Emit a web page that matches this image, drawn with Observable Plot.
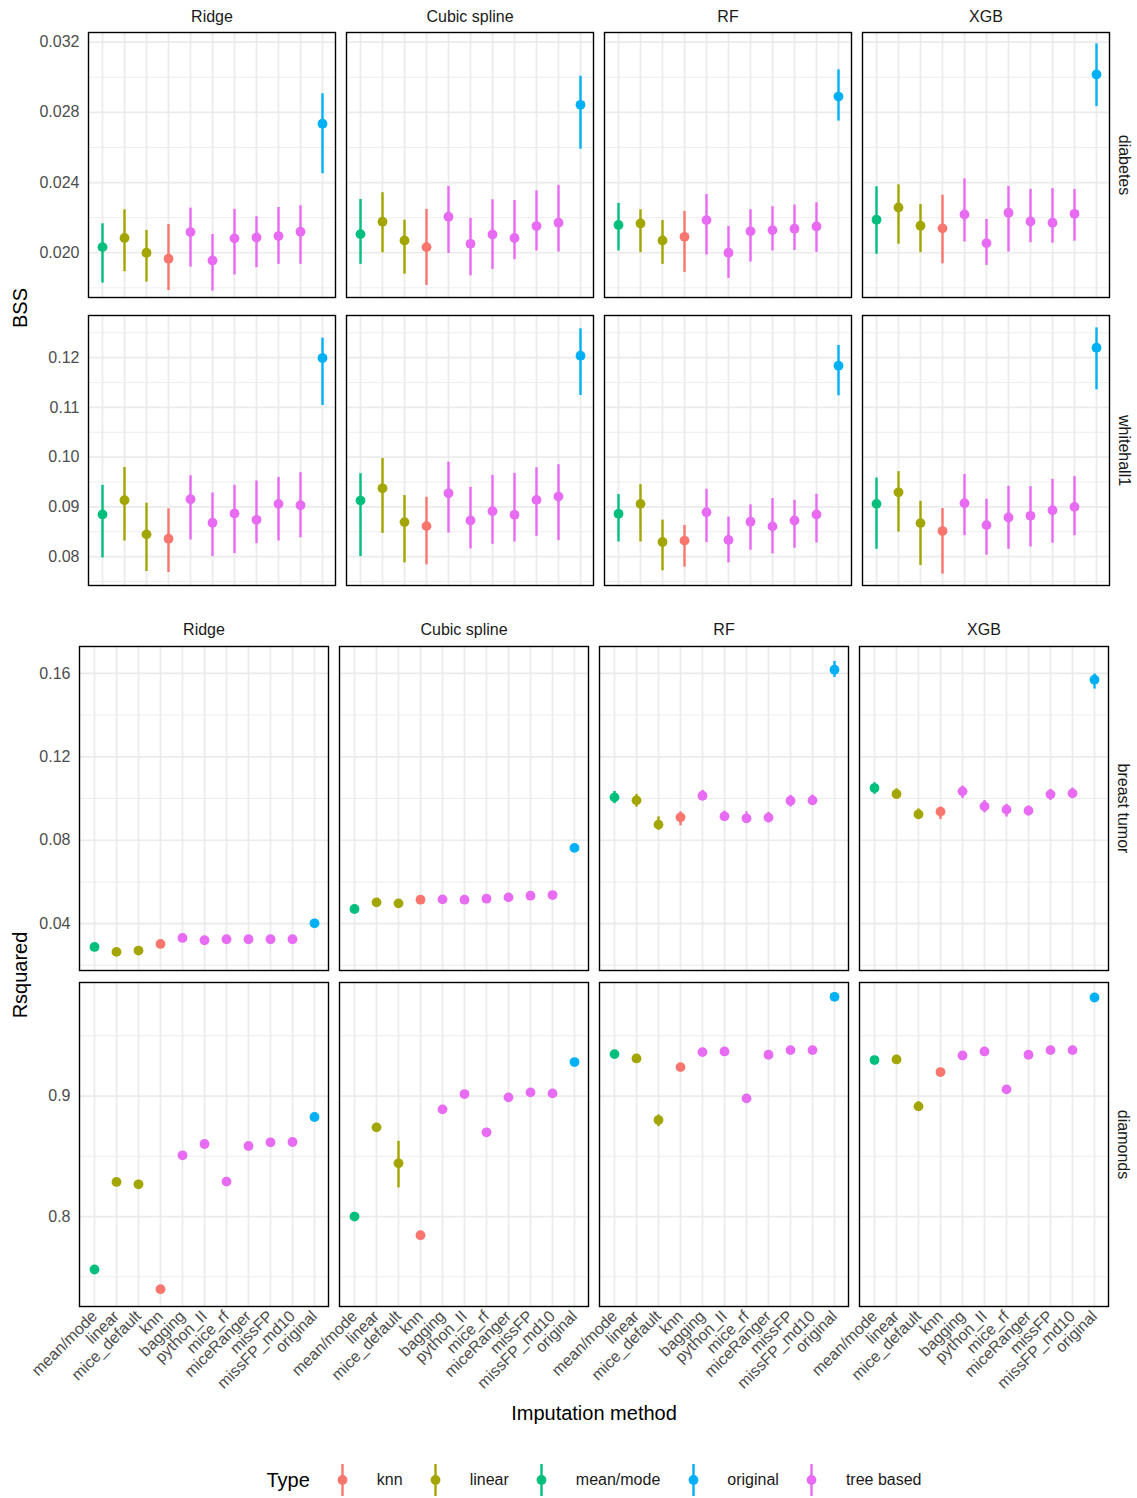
<!DOCTYPE html>
<html>
<head>
<meta charset="utf-8">
<script src="https://cdn.jsdelivr.net/npm/d3@7"></script>
<script src="https://cdn.jsdelivr.net/npm/@observablehq/plot@0.6"></script>
<style>
  html, body { margin: 0; padding: 0; background: white; }
  #chart { position: relative; width: 1137px; height: 1498px; background: white;
           font-family: "Liberation Sans", Arial, Helvetica, sans-serif; color: #000; }
  #chart svg.row { position: absolute; left: 0; }
  .title { position: absolute; font-size: 20px; color: #000; white-space: nowrap; z-index: 5; }
  #legend { position: absolute; top: 1480px; left: 594px; transform: translate(-50%, -50%);
            display: flex; align-items: center; font-size: 16px; color: #1A1A1A; z-index: 5; white-space: nowrap; }
</style>
</head>
<body>
<div id="chart"></div>
<script>
// ---------- data ----------
const models = ["Ridge", "Cubic spline", "RF", "XGB"];
const methods = ["mean/mode", "linear", "mice_default", "knn", "bagging", "python_II",
                 "mice_rf", "miceRanger", "missFP", "missFP_md10", "original"];
const types = ["mean/mode", "linear", "linear", "knn", "tree based", "tree based",
               "tree based", "tree based", "tree based", "tree based", "original"];
const typeDomain = ["knn", "linear", "mean/mode", "original", "tree based"];
const typeColors = ["#F8766D", "#A3A500", "#00BF7D", "#00B0F6", "#E76BF3"];

// each entry: [estimate, lower, upper], in method order
const diabetes_Ridge = [
  [0.02032, 0.01827, 0.02165], [0.02084, 0.01892, 0.02245], [0.02000, 0.01833, 0.02127],
  [0.01966, 0.01785, 0.02161], [0.02118, 0.01918, 0.02254], [0.01956, 0.01782, 0.02104],
  [0.02082, 0.01873, 0.02247], [0.02087, 0.01915, 0.02205], [0.02095, 0.01934, 0.02258],
  [0.02120, 0.01934, 0.02268], [0.02735, 0.02450, 0.02906]];
const diabetes_Cubic = [
  [0.02106, 0.01934, 0.02304], [0.02177, 0.02000, 0.02342], [0.02070, 0.01878, 0.02186],
  [0.02032, 0.01814, 0.02247], [0.02205, 0.01996, 0.02378], [0.02051, 0.01869, 0.02196],
  [0.02104, 0.01905, 0.02302], [0.02084, 0.01960, 0.02298], [0.02152, 0.02010, 0.02353],
  [0.02171, 0.02004, 0.02384], [0.02843, 0.02590, 0.03006]];
const diabetes_RF = [
  [0.02158, 0.02010, 0.02281], [0.02167, 0.02000, 0.02245], [0.02070, 0.01934, 0.02184],
  [0.02091, 0.01888, 0.02235], [0.02186, 0.01987, 0.02332], [0.02000, 0.01854, 0.02150],
  [0.02122, 0.01947, 0.02245], [0.02129, 0.02010, 0.02262], [0.02137, 0.02013, 0.02272],
  [0.02150, 0.02002, 0.02285], [0.02890, 0.02750, 0.03042]];
const diabetes_XGB = [
  [0.02188, 0.01991, 0.02376], [0.02258, 0.02049, 0.02387], [0.02154, 0.02000, 0.02275],
  [0.02139, 0.01937, 0.02328], [0.02218, 0.02061, 0.02421], [0.02055, 0.01928, 0.02190],
  [0.02228, 0.02004, 0.02378], [0.02178, 0.02057, 0.02361], [0.02171, 0.02055, 0.02365],
  [0.02222, 0.02066, 0.02361], [0.03016, 0.02833, 0.03190]];

const whitehall_Ridge = [
  [0.08847, 0.07973, 0.09433], [0.09133, 0.08313, 0.09793], [0.08447, 0.07700, 0.09073],
  [0.08360, 0.07680, 0.08960], [0.09153, 0.08333, 0.09627], [0.08680, 0.08000, 0.09280],
  [0.08867, 0.08060, 0.09433], [0.08740, 0.08260, 0.09520], [0.09060, 0.08313, 0.09593],
  [0.09033, 0.08380, 0.09687], [0.11993, 0.11040, 0.12393]];
const whitehall_Cubic = [
  [0.09127, 0.08000, 0.09667], [0.09373, 0.08467, 0.09973], [0.08693, 0.07873, 0.09227],
  [0.08613, 0.07833, 0.09193], [0.09273, 0.08473, 0.09900], [0.08727, 0.08153, 0.09393],
  [0.08913, 0.08247, 0.09633], [0.08840, 0.08293, 0.09673], [0.09140, 0.08407, 0.09787],
  [0.09207, 0.08320, 0.09847], [0.12040, 0.11240, 0.12580]];
const whitehall_RF = [
  [0.08860, 0.08293, 0.09247], [0.09060, 0.08293, 0.09447], [0.08293, 0.07713, 0.08733],
  [0.08320, 0.07787, 0.08627], [0.08893, 0.08280, 0.09353], [0.08333, 0.07873, 0.08793],
  [0.08700, 0.08127, 0.09040], [0.08607, 0.08053, 0.09167], [0.08727, 0.08167, 0.09133],
  [0.08847, 0.08273, 0.09253], [0.11840, 0.11233, 0.12247]];
const whitehall_XGB = [
  [0.09060, 0.08147, 0.09580], [0.09293, 0.08493, 0.09707], [0.08673, 0.07820, 0.09113],
  [0.08513, 0.07647, 0.08967], [0.09073, 0.08420, 0.09653], [0.08633, 0.08027, 0.09153],
  [0.08787, 0.08147, 0.09413], [0.08820, 0.08193, 0.09407], [0.08933, 0.08267, 0.09553],
  [0.09000, 0.08420, 0.09607], [0.12200, 0.11353, 0.12600]];

const breast_Ridge = [
  [0.02884, 0.02804, 0.02964], [0.02645, 0.02565, 0.02725], [0.02709, 0.02629, 0.02789],
  [0.03028, 0.02948, 0.03108], [0.03315, 0.03235, 0.03395], [0.03203, 0.03123, 0.03283],
  [0.03251, 0.03171, 0.03331], [0.03251, 0.03171, 0.03331], [0.03251, 0.03171, 0.03331],
  [0.03251, 0.03171, 0.03331], [0.04016, 0.03936, 0.04096]];
const breast_Cubic = [
  [0.04701, 0.04621, 0.04781], [0.05020, 0.04940, 0.05100], [0.04972, 0.04892, 0.05052],
  [0.05147, 0.05067, 0.05227], [0.05163, 0.05083, 0.05243], [0.05147, 0.05067, 0.05227],
  [0.05195, 0.05115, 0.05275], [0.05259, 0.05179, 0.05339], [0.05339, 0.05259, 0.05419],
  [0.05370, 0.05290, 0.05450], [0.07633, 0.07553, 0.07713]];
const breast_RF = [
  [0.10056, 0.09750, 0.10340], [0.09912, 0.09580, 0.10200], [0.08749, 0.08480, 0.09120],
  [0.09100, 0.08690, 0.09360], [0.10135, 0.09880, 0.10390], [0.09147, 0.08910, 0.09400],
  [0.09052, 0.08800, 0.09360], [0.09084, 0.08830, 0.09340], [0.09896, 0.09590, 0.10150],
  [0.09912, 0.09660, 0.10170], [0.16175, 0.15810, 0.16570]];
const breast_XGB = [
  [0.10502, 0.10200, 0.10760], [0.10215, 0.09960, 0.10470], [0.09243, 0.08990, 0.09500],
  [0.09370, 0.08990, 0.09590], [0.10343, 0.09990, 0.10600], [0.09625, 0.09310, 0.09900],
  [0.09466, 0.09110, 0.09720], [0.09418, 0.09160, 0.09640], [0.10199, 0.09910, 0.10440],
  [0.10247, 0.09990, 0.10500], [0.15697, 0.15250, 0.15970]];

const diamonds_Ridge = [
  [0.75608, 0.75458, 0.75758], [0.82873, 0.82723, 0.83023], [0.82680, 0.82530, 0.82830],
  [0.73978, 0.73828, 0.74128], [0.85083, 0.84933, 0.85233], [0.86022, 0.85872, 0.86172],
  [0.82901, 0.82751, 0.83051], [0.85856, 0.85706, 0.86006], [0.86160, 0.86010, 0.86310],
  [0.86188, 0.86038, 0.86338], [0.88260, 0.88110, 0.88410]];
const diamonds_Cubic = [
  [0.80000, 0.79850, 0.80150], [0.87403, 0.87253, 0.87553], [0.84420, 0.82380, 0.86240],
  [0.78453, 0.78303, 0.78603], [0.88895, 0.88745, 0.89045], [0.90166, 0.90016, 0.90316],
  [0.86989, 0.86839, 0.87139], [0.89890, 0.89740, 0.90040], [0.90304, 0.90154, 0.90454],
  [0.90221, 0.90071, 0.90371], [0.92818, 0.92668, 0.92968]];
const diamonds_RF = [
  [0.93480, 0.93330, 0.93630], [0.93120, 0.92970, 0.93270], [0.88010, 0.87460, 0.88430],
  [0.92400, 0.92250, 0.92550], [0.93646, 0.93496, 0.93796], [0.93702, 0.93552, 0.93852],
  [0.89807, 0.89657, 0.89957], [0.93425, 0.93275, 0.93575], [0.93812, 0.93662, 0.93962],
  [0.93812, 0.93662, 0.93962], [0.98232, 0.98082, 0.98382]];
const diamonds_XGB = [
  [0.92983, 0.92833, 0.93133], [0.93039, 0.92889, 0.93189], [0.89144, 0.88750, 0.89520],
  [0.91989, 0.91839, 0.92139], [0.93370, 0.93220, 0.93520], [0.93702, 0.93552, 0.93852],
  [0.90552, 0.90402, 0.90702], [0.93425, 0.93275, 0.93575], [0.93812, 0.93662, 0.93962],
  [0.93812, 0.93662, 0.93962], [0.98177, 0.98027, 0.98327]];

// axis ticks per row
const ticks_diabetes = [0.020, 0.024, 0.028, 0.032];
const minor_diabetes = [0.018, 0.022, 0.026, 0.030];
const ticks_whitehall = [0.08, 0.09, 0.10, 0.11, 0.12];
const minor_whitehall = [0.075, 0.085, 0.095, 0.105, 0.115, 0.125];
const ticks_breast = [0.04, 0.08, 0.12, 0.16];
const minor_breast = [0.02, 0.06, 0.10, 0.14];
const ticks_diamonds = [0.8, 0.9];
const minor_diamonds = [0.75, 0.85, 0.95];

// ---------- build ----------
function tidy(sets) {
  return sets.flatMap((arr, mi) => arr.map((d, i) => ({
    model: models[mi], method: methods[i], type: types[i], v: d[0], lo: d[1], hi: d[2]
  })));
}

const FONT = '"Liberation Sans", Arial, Helvetica, sans-serif';
const chart = document.getElementById("chart");

function row(cfg) {
  const data = tidy(cfg.sets);
  const marks = [
    Plot.gridY(cfg.minor, {stroke: "#EBEBEB", strokeOpacity: 1, strokeWidth: 0.9}),
    Plot.gridY(cfg.major, {stroke: "#EBEBEB", strokeOpacity: 1, strokeWidth: 1.7}),
    Plot.gridX(methods, {stroke: "#EBEBEB", strokeOpacity: 1, strokeWidth: 1.7}),
    Plot.axisY(cfg.major, {tickSize: 0, tickPadding: 9, tickFormat: cfg.fmt, color: "#4D4D4D",
                           fontSize: 16, label: null}),
    Plot.ruleX(data, {fx: "model", x: "method", y1: "lo", y2: "hi", stroke: "type", strokeWidth: 2.4}),
    Plot.dot(data, {fx: "model", x: "method", y: "v", fill: "type", r: 4.9}),
    Plot.frame({stroke: "black", strokeWidth: 1.4}),
    Plot.text([cfg.label], {fx: () => "XGB", text: d => d, frameAnchor: "right", dx: 15,
                            rotate: 90, textAnchor: "middle", lineAnchor: "middle",
                            fontSize: 16, fill: "#1A1A1A"})
  ];
  if (cfg.strips) {
    marks.push(Plot.text(models, {fx: d => d, text: d => d, frameAnchor: "top", dy: cfg.stripDy,
                                  lineAnchor: "middle", fontSize: 16, fill: "#1A1A1A"}));
  }
  if (cfg.xAxis) {
    marks.push(Plot.axisX({tickRotate: -45, tickSize: 0, tickPadding: 7, fontSize: 16,
                           color: "#4D4D4D", label: null}));
  }
  const svg = Plot.plot({
    width: 1137,
    height: cfg.height,
    marginTop: cfg.mt,
    marginBottom: cfg.mb,
    marginLeft: cfg.ml,
    marginRight: 27,
    style: {fontFamily: FONT, fontSize: "16px", background: "white", overflow: "visible"},
    fx: {domain: models, paddingInner: cfg.pad, paddingOuter: 0, axis: null, label: null},
    x: {type: "point", domain: methods, padding: 0.6, label: null, axis: cfg.xAxis ? undefined : null},
    y: {domain: cfg.domain, label: null},
    color: {domain: typeDomain, range: typeColors},
    marks
  });
  svg.classList.add("row");
  svg.style.top = cfg.top + "px";
  svg.style.position = "absolute";
  chart.appendChild(svg);
}

row({sets: [diabetes_Ridge, diabetes_Cubic, diabetes_RF, diabetes_XGB], label: "diabetes",
     major: ticks_diabetes, minor: minor_diabetes, fmt: d3.format(".3f"), strips: true,
     domain: [0.01745, 0.03255], top: 0, height: 300, mt: 32, mb: 3, ml: 87, pad: 0.04255, stripDy: -16});
row({sets: [whitehall_Ridge, whitehall_Cubic, whitehall_RF, whitehall_XGB], label: "whitehall1",
     major: ticks_whitehall, minor: minor_whitehall, fmt: d3.format(".2f"), strips: false,
     domain: [0.07418, 0.12849], top: 300, height: 290, mt: 15, mb: 5, ml: 87, pad: 0.04255, stripDy: -16});
row({sets: [breast_Ridge, breast_Cubic, breast_RF, breast_XGB], label: "breast tumor",
     major: ticks_breast, minor: minor_breast, fmt: d3.format(".2f"), strips: true,
     domain: [0.01753, 0.1729], top: 600, height: 372, mt: 46, mb: 2, ml: 78, pad: 0.04219, stripDy: -17});
row({sets: [diamonds_Ridge, diamonds_Cubic, diamonds_RF, diamonds_XGB], label: "diamonds",
     major: ticks_diamonds, minor: minor_diamonds, fmt: d3.format(".1f"), strips: false,
     domain: [0.7254, 0.9942], top: 975, height: 431, mt: 7, mb: 100, ml: 78, pad: 0.04219, stripDy: -17,
     xAxis: true});

// ---------- titles ----------
function title(text, x, y, rotate) {
  const el = document.createElement("div");
  el.className = "title";
  el.textContent = text;
  el.style.left = x + "px";
  el.style.top = y + "px";
  el.style.transform = "translate(-50%, -50%)" + (rotate ? " rotate(-90deg)" : "");
  chart.appendChild(el);
}
title("BSS", 20, 308, true);
title("Rsquared", 20, 975, true);
title("Imputation method", 594, 1413, false);

// ---------- legend ----------
const legend = document.createElement("div");
legend.id = "legend";
const lt = document.createElement("span");
lt.textContent = "Type";
lt.style.fontSize = "20px";
lt.style.color = "#000";
lt.style.marginRight = "23px";
legend.appendChild(lt);
typeDomain.forEach((t, i) => {
  const c = typeColors[i];
  const key = document.createElementNS("http://www.w3.org/2000/svg", "svg");
  key.setAttribute("width", 20);
  key.setAttribute("height", 32);
  key.innerHTML = `<line x1="10" x2="10" y1="0" y2="32" stroke="${c}" stroke-width="2.4"/>` +
                  `<circle cx="10" cy="16" r="4.9" fill="${c}"/>`;
  legend.appendChild(key);
  const lab = document.createElement("span");
  lab.textContent = t;
  lab.style.marginLeft = "24px";
  lab.style.marginRight = i < typeDomain.length - 1 ? "23px" : "0";
  legend.appendChild(lab);
});
chart.appendChild(legend);
</script>
</body>
</html>
